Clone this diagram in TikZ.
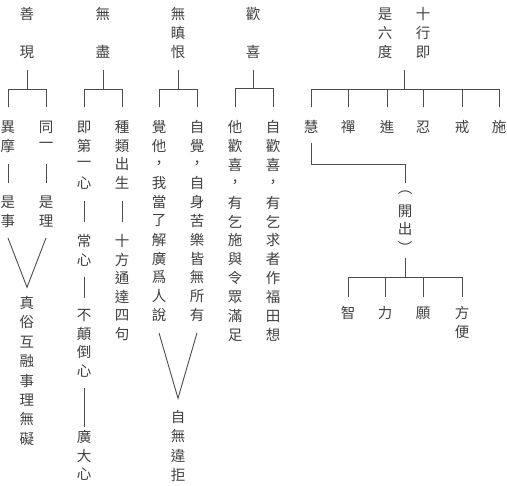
\documentclass[tikz,border=0pt]{standalone}
\usepackage{fontspec}
\newfontfamily\cjk{Noto Sans CJK TC}
\usetikzlibrary{calc}
\ExplSyntaxOn
\NewDocumentCommand\vt{O{18.7}m}{%
  \vbox{\offinterlineskip
    \tl_map_inline:nn{#2}{\hbox to 16pt{\hss\vbox to #1pt{\vss\hbox{##1}\vss}\hss}}}}
\ExplSyntaxOff
\tikzset{
  vcol/.style={anchor=north,inner sep=0pt,outer sep=0pt,text=black!75,
    font=\cjk\fontsize{14.5}{14.5}\selectfont},
  conn/.style={draw=black!70,line width=0.9pt}
}
\begin{document}
\begin{tikzpicture}[x=1pt,y=-1pt]
\useasboundingbox (0,0) rectangle (507,486);
% ---- column group 1
\node[vcol] (sA) at (27,4.5) {\vt[19]{善{}現}};
\node[vcol] (sB) at (8,117.65) {\vt{異摩}};
\node[vcol] (sC) at (46,117.65) {\vt{同一}};
\node[vcol] (sD) at (8,192.5) {\vt[19]{是事}};
\node[vcol] (sE) at (46,192.5) {\vt[19]{是理}};
\node[vcol] (sF) at (27,293.3) {\vt[19.4]{真俗互融事理無礙}};
% ---- column group 2
\node[vcol] (wA) at (103,4.5) {\vt[19]{無{}盡}};
\node[vcol] (wB) at (84,117.65) {\vt{即第一心}};
\node[vcol] (wC) at (122,117.65) {\vt{種類出生}};
\node[vcol] (wD) at (84,231.65) {\vt{常心}};
\node[vcol] (wE) at (84,305.65) {\vt{不顛倒心}};
\node[vcol] (wF) at (84,427.75) {\vt[18.5]{廣大心}};
\node[vcol] (wG) at (122,231.65) {\vt{十方通達四句}};
% ---- column group 3
\node[vcol] (hA) at (178,4.5) {\vt[19]{無瞋恨}};
\node[vcol] (hB) at (159,117.6) {\vt[18.8]{覺他，我當了解廣爲人說}};
\node[vcol] (hC) at (197,117.6) {\vt[18.8]{自覺，自身苦樂皆無所有}};
\node[vcol] (hD) at (178,407.35) {\vt[19.3]{自無違拒}};
% ---- column group 4
\node[vcol] (xA) at (253,4.5) {\vt[19]{歡{}喜}};
\node[vcol] (xB) at (235,117.55) {\vt[18.9]{他歡喜，有乞施與令眾滿足}};
\node[vcol] (xC) at (273,117.55) {\vt[18.9]{自歡喜，有乞求者作福田想}};
% ---- right group
\node[vcol] (dA) at (385,4.5) {\vt[19]{是六度}};
\node[vcol] (dB) at (423,4.5) {\vt[19]{十行即}};
\node[vcol] (d1) at (311,117.65) {\vt{慧}};
\node[vcol] (d2) at (348,117.65) {\vt{禪}};
\node[vcol] (d3) at (387,117.65) {\vt{進}};
\node[vcol] (d4) at (423,117.65) {\vt{忍}};
\node[vcol] (d5) at (462,117.65) {\vt{戒}};
\node[vcol] (d6) at (499,117.65) {\vt{施}};
\node[vcol] (kA) at (405,184) {\vt[18]{︵開出︶}};
\node[vcol] (k1) at (348,303.5) {\vt[19]{智}};
\node[vcol] (k2) at (385,303.5) {\vt[19]{力}};
\node[vcol] (k3) at (423,303.5) {\vt[19]{願}};
\node[vcol] (k4) at (462,303.5) {\vt[19]{方便}};
% ---- connectors group 1
\draw[conn] ($(sA.south)+(0,8.5)$) -- ($(sA.south)+(0,27.5)$);
\draw[conn] ($(sB.north)+(0,-10.6)$) -- ($(sB.north)+(0,-28.6)$) -| ($(sC.north)+(0,-10.6)$);
\draw[conn] ($(sB.south)+(0,9)$) -- ($(sD.north)+(0,-9)$);
\draw[conn] ($(sC.south)+(0,9)$) -- ($(sE.north)+(0,-9)$);
\coordinate (sV) at ($(sF.north)+(0,-6)$);
\draw[conn] ($(sD.south)+(0,7.5)$) -- (sV) -- ($(sE.south)+(0,7.5)$);
% ---- connectors group 2
\draw[conn] ($(wA.south)+(0,8.5)$) -- ($(wA.south)+(0,27.5)$);
\draw[conn] ($(wB.north)+(0,-10.6)$) -- ($(wB.north)+(0,-28.6)$) -| ($(wC.north)+(0,-10.6)$);
\draw[conn] ($(wB.south)+(0,8.5)$) -- ($(wD.north)+(0,-9.5)$);
\draw[conn] ($(wD.south)+(0,8)$) -- ($(wE.north)+(0,-7.5)$);
\draw[conn] ($(wE.south)+(0,7.5)$) -- ($(wF.north)+(0,-1)$);
\draw[conn] ($(wC.south)+(0,8.5)$) -- ($(wG.north)+(0,-9.5)$);
% ---- connectors group 3
\draw[conn] ($(hA.south)+(0,8.5)$) -- ($(hA.south)+(0,27.5)$);
\draw[conn] ($(hB.north)+(0,-10.6)$) -- ($(hB.north)+(0,-28.6)$) -| ($(hC.north)+(0,-10.6)$);
\coordinate (hV) at ($(hD.north)+(0,-9)$);
\draw[conn] ($(hB.south)+(0,8.5)$) -- (hV) -- ($(hC.south)+(0,8.5)$);
% ---- connectors group 4
\draw[conn] ($(xA.south)+(0,8.5)$) -- ($(xA.south)+(0,27.5)$);
\draw[conn] ($(xB.north)+(0,-10.6)$) -- ($(xB.north)+(0,-28.6)$) -| ($(xC.north)+(0,-10.6)$);
% ---- connectors right group
\draw[conn] ($($(dA.south)!0.5!(dB.south)$)+(0,8.5)$) -- ($($(dA.south)!0.5!(dB.south)$)+(0,27.5)$);
\draw[conn] ($(d1.north)+(0,-10.6)$) -- ($(d1.north)+(0,-28.6)$) -| ($(d6.north)+(0,-10.6)$);
\foreach \n in {d2,d3,d4,d5}
  \draw[conn] ($(\n.north)+(0,-10.6)$) -- ($(\n.north)+(0,-28.6)$);
\draw[conn] ($(d1.south)+(0,6.5)$) |- ($(kA.north)+(0,-20)$) -- ($(kA.north)+(0,-1)$);
\draw[conn] ($(kA.south)+(0,2)$) -- ($(kA.south)+(0,21)$);
\draw[conn] ($(k1.north)+(0,-6.5)$) -- ($(k1.north)+(0,-26.5)$) -| ($(k4.north)+(0,-6.5)$);
\foreach \n in {k2,k3}
  \draw[conn] ($(\n.north)+(0,-6.5)$) -- ($(\n.north)+(0,-26.5)$);
\end{tikzpicture}
\end{document}
